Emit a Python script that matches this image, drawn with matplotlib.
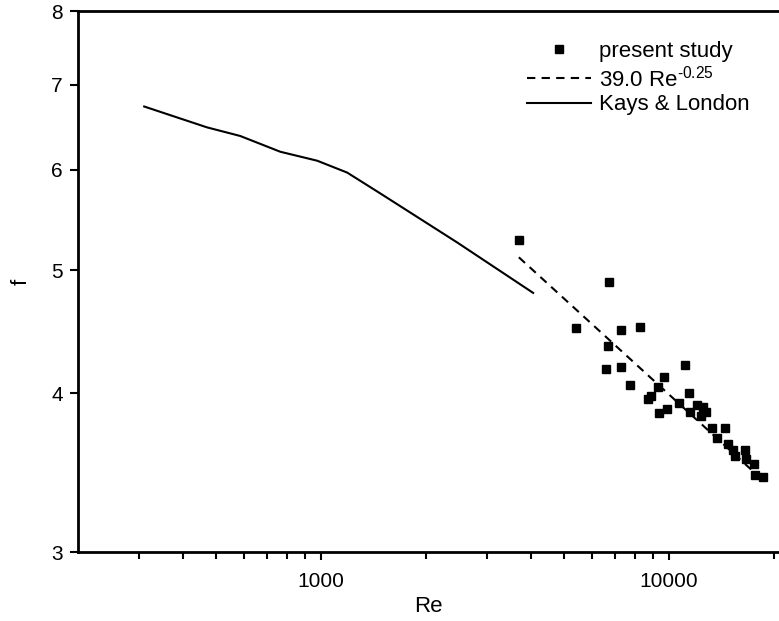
import matplotlib
matplotlib.use('Agg')
import matplotlib.pyplot as plt
from matplotlib.ticker import FixedLocator, NullFormatter, NullLocator

plt.rcParams['font.family'] = ['Liberation Sans', 'DejaVu Sans']
plt.rcParams['mathtext.fontset'] = 'custom'
plt.rcParams['mathtext.rm'] = 'Liberation Sans'
plt.rcParams['mathtext.it'] = 'Liberation Sans'

# present study (measured points)
re_data = [3713, 6735, 5404, 7279, 8270, 6666, 6578, 7279, 11140, 7726,
           9643, 9318, 8688, 8847, 11410, 10705, 9849, 9373, 12012, 12486,
           11489, 12386, 12759, 13320, 14450, 13769, 14776, 15305, 15507, 16570,
           16670, 17550, 17610, 18660]
f_data = [5.28, 4.90, 4.50, 4.49, 4.51, 4.36, 4.18, 4.20, 4.21, 4.06,
          4.12, 4.05, 3.96, 3.98, 4.00, 3.93, 3.89, 3.86, 3.92, 3.90,
          3.87, 3.84, 3.87, 3.76, 3.76, 3.69, 3.65, 3.61, 3.57, 3.61,
          3.55, 3.52, 3.45, 3.44]

# correlation 39.0 Re^-0.25 (end points as drawn)
re_fit = [3700, 17500]
f_fit = [5.12, 3.47]

# Kays & London curve
re_kl = [310, 470, 585, 763, 974, 1188, 1477, 2459, 4067]
f_kl = [6.73, 6.48, 6.38, 6.20, 6.10, 5.97, 5.75, 5.26, 4.80]

fig = plt.figure(figsize=(7.79, 6.21), dpi=100)
ax = fig.add_axes([0.1001, 0.111, 0.8999, 0.871])

ax.plot(re_data, f_data, 's', color='black', markersize=5.5, label='present study')
ax.plot(re_fit, f_fit, color='black', lw=1.5, dashes=(4, 3), label=r'39.0 Re$^{\text{-0.25}}$')
ax.plot(re_kl, f_kl, color='black', lw=1.5, label='Kays & London')

ax.set_xscale('log')
ax.set_yscale('log')
ax.set_xlim(200, 20700)
ax.set_ylim(3, 8)

ax.xaxis.set_major_locator(FixedLocator([1000, 10000]))
ax.xaxis.set_minor_locator(FixedLocator([300, 400, 500, 600, 700, 800, 900,
                                         2000, 3000, 4000, 5000, 6000, 7000, 8000, 9000, 20000]))
ax.xaxis.set_minor_formatter(NullFormatter())
ax.set_xticklabels(['1000', '10000'])
ax.yaxis.set_major_locator(FixedLocator([3, 4, 5, 6, 7, 8]))
ax.yaxis.set_minor_locator(NullLocator())
ax.set_yticklabels(['3', '4', '5', '6', '7', '8'])

for s in ['left', 'bottom', 'top']:
    ax.spines[s].set_linewidth(2)
ax.spines['right'].set_visible(False)
ax.tick_params(which='both', direction='out', width=1.5, labelsize=15)
ax.tick_params(which='major', length=6)
ax.tick_params(which='minor', length=5)
ax.tick_params(axis='x', which='major', pad=8)
ax.tick_params(axis='y', which='major', pad=5)

ax.set_xlabel('Re', fontsize=16, labelpad=4)
ax.set_ylabel('f', fontsize=16, rotation=90, labelpad=14)

ax.legend(loc='upper left', bbox_to_anchor=(0.6405, 0.945), frameon=False,
          fontsize=16, handlelength=2.9, handletextpad=0.35, labelspacing=0.15,
          borderpad=0, borderaxespad=0)

fig.savefig('out.png', dpi=100)
